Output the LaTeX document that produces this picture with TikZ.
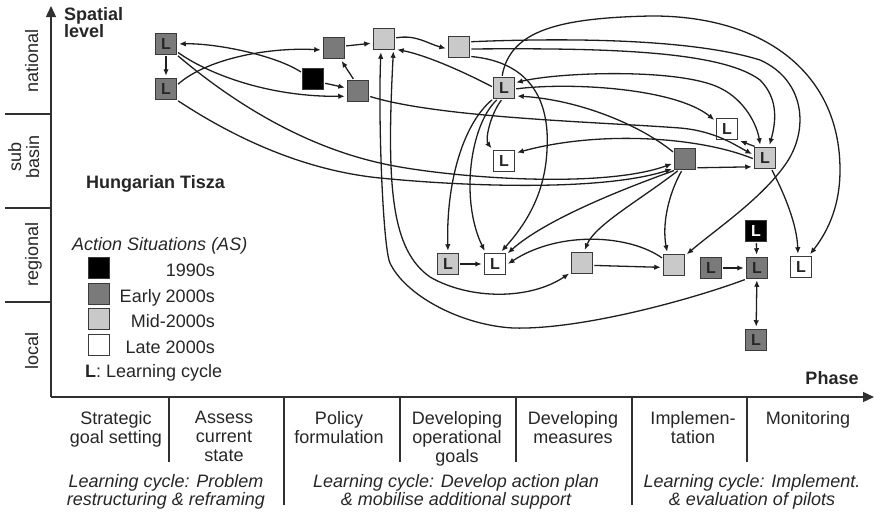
\documentclass[tikz,border=0pt]{standalone}
\usepackage{fontspec}
\setmainfont{Liberation Sans}
\usetikzlibrary{arrows.meta}
\definecolor{boxedge}{HTML}{3A3A3A}
\definecolor{darkfill}{HTML}{7A7A7A}
\definecolor{lightfill}{HTML}{C9C9C9}
\definecolor{linecol}{HTML}{1E1E1E}
\definecolor{axiscol}{HTML}{303030}
\begin{document}
\begin{tikzpicture}[x=1pt,y=-1pt,
  >={Latex[length=6.5pt,width=5.5pt]},
  txt/.style={font=\fontsize{18}{19}\selectfont, inner sep=0pt, text=black!85},
  box/.style={draw=boxedge, line width=1.5pt, minimum size=21pt, inner sep=0pt,
    font=\fontsize{16}{16}\selectfont\bfseries, text=black!85},
  dk/.style={box, fill=darkfill},
  lt/.style={box, fill=lightfill},
  wt/.style={box, fill=white},
  bk/.style={box, fill=black, text=white},
  link/.style={draw=linecol, line width=1.3pt, ->, shorten >=2pt, shorten <=1pt},
  axisline/.style={draw=axiscol, line width=1.4pt},
  bigtip/.style={-{Triangle[length=11pt,width=10pt]}}
]
\useasboundingbox (0,0) rectangle (874,512);

% ---------- axes ----------
\draw[axisline, bigtip] (51,397) -- (51,6);
\draw[axisline, bigtip] (51,397) -- (874,397);
\draw[axisline] (5,114) -- (51,114);
\draw[axisline] (5,208) -- (51,208);
\draw[axisline] (5,302) -- (51,302);

\node[txt, font=\fontsize{18}{19}\selectfont\bfseries, anchor=base west] (spatial) at (64,20) {Spatial};
\node[txt, font=\fontsize{18}{19}\selectfont\bfseries, anchor=base west] (level) at (64,37) {level};
\node[txt, font=\fontsize{18}{19}\selectfont\bfseries, anchor=base] (phase) at (832,384) {Phase};

\node[txt, rotate=90, anchor=base] (nat) at (38,61) {national};
\node[txt, rotate=90, anchor=base] (sub) at (21,157) {sub};
\node[txt, rotate=90, anchor=base] (basin) at (39,157) {basin};
\node[txt, rotate=90, anchor=base] (reg) at (38,254) {regional};
\node[txt, rotate=90, anchor=base] (loc) at (38,351) {local};

% ---------- phases ----------
\foreach \x/\len in {169/462, 284/505, 400/462, 516/462, 632/505, 747/462}
  \draw[axisline] (\x,397) -- (\x,\len);

\node[txt, align=center, anchor=north] (ph1) at (116,411) {Strategic\\goal setting};
\node[txt, align=center, anchor=north] (ph2) at (224,411) {Assess\\current\\state};
\node[txt, align=center, anchor=north] (ph3) at (339,411) {Policy\\formulation};
\node[txt, align=center, anchor=north] (ph4) at (457,411) {Developing\\operational\\goals};
\node[txt, align=center, anchor=north] (ph5) at (573,411) {Developing\\measures};
\node[txt, align=center, anchor=north] (ph6) at (693,411) {Implemen-\\tation};
\node[txt, align=center, anchor=north] (ph7) at (808,411) {Monitoring};

\node[txt, font=\fontsize{18}{18.5}\selectfont\itshape, align=center, anchor=north] (lc1) at (166,474)
  {Learning cycle: Problem\\restructuring \& reframing};
\node[txt, font=\fontsize{18}{18.5}\selectfont\itshape, align=center, anchor=north] (lc2) at (456,474)
  {Learning cycle: Develop action plan\\\& mobilise additional support};
\node[txt, font=\fontsize{18}{18.5}\selectfont\itshape, align=center, anchor=north] (lc3) at (752,474)
  {Learning cycle: Implement.\\\& evaluation of pilots};

% ---------- legend ----------
\node[txt, font=\fontsize{18}{19}\selectfont\bfseries, anchor=base west] (tisza) at (86,188) {Hungarian Tisza};
\node[txt, font=\fontsize{18}{19}\selectfont\itshape, anchor=base west] (astitle) at (72,250) {Action Situations (AS)};
\node[bk] (lg1) at (99,268) {};
\node[dk] (lg2) at (99,294) {};
\node[lt] (lg3) at (99,319) {};
\node[wt] (lg4) at (99,345) {};
\node[txt, anchor=base east] (lgt1) at (215,276) {1990s};
\node[txt, anchor=base east] (lgt2) at (215,302) {Early 2000s};
\node[txt, anchor=base east] (lgt3) at (215,327) {Mid-2000s};
\node[txt, anchor=base east] (lgt4) at (215,353) {Late 2000s};
\node[txt, anchor=base west] (lgt5) at (85,377) {\textbf{L}: Learning cycle};

% ---------- action situations ----------
\node[dk] (A) at (166,44) {L};
\node[dk] (B) at (166,89) {L};
\node[bk] (C) at (313,79) {};
\node[dk] (D) at (334,48) {};
\node[dk] (E) at (358,91) {};
\node[lt] (F) at (384,39) {};
\node[lt] (G) at (459,47) {};
\node[lt] (H) at (504,88) {L};
\node[wt] (I) at (504,161) {L};
\node[wt] (J) at (727,129) {L};
\node[lt] (K) at (765,158) {L};
\node[dk] (M) at (685,159) {};
\node[lt] (N) at (448,264) {L};
\node[wt] (O) at (495,264) {L};
\node[lt] (P) at (582,263) {};
\node[lt] (Q) at (674,265) {};
\node[dk] (R) at (711,268) {L};
\node[bk] (S) at (756,231) {L};
\node[dk] (T) at (757,268) {L};
\node[wt] (U) at (801,267) {L};
\node[dk] (V) at (756,340) {L};

% ---------- links ----------
\draw[link] (A) -- (B);
\draw[link] (C.150) .. controls (275,55) and (215,43) .. (A.east);
\draw[link] (B.20) .. controls (205,60) and (265,47) .. (D.190);
\draw[link] (A.-35) .. controls (205,72) and (265,97) .. (E.205);
\draw[link] (C.-20) -- (E.165);
\draw[link] (E.110) -- (D.-60);
\draw[link] (D.10) -- (F.200);
\draw[link] (F.5) to[out=10,in=165] (G.190);
\draw[link] (H.175) .. controls (460,70) and (425,55) .. (F.-42);
\draw[link,<->] (F.-50) .. controls (386,190) and (392,250) .. (430,277)
  .. controls (470,300) and (530,300) .. (P.-140);
\draw[link] (T.-135) .. controls (690,300) and (580,330) .. (513,328)
  .. controls (460,325) and (405,295) .. (390,263)
  .. controls (383,248) and (378,120) .. (F.-105);
\draw[link] (G.-40) .. controls (530,62) and (550,100) .. (547,150)
  .. controls (545,195) and (525,225) .. (O.65);
\draw[link] (H.100) .. controls (510,30) and (560,18) .. (650,16)
  .. controls (760,15) and (840,70) .. (840,170)
  .. controls (840,210) and (825,235) .. (U.55);
\draw[link] (G.25) .. controls (560,38) and (690,38) .. (760,60)
  .. controls (805,80) and (810,130) .. (785,165)
  .. controls (760,200) and (715,230) .. (Q.40);
\draw[link] (G.-10) .. controls (600,48) and (720,50) .. (760,80)
  .. controls (780,100) and (775,125) .. (K.70);
\draw[link,<->] (H.25) .. controls (560,72) and (680,68) .. (720,88)
  .. controls (745,100) and (757,125) .. (K.112);
\draw[link] (H.-5) .. controls (570,82) and (675,88) .. (J.145);
\draw[link] (M.150) .. controls (640,125) and (580,100) .. (H.-35);
\draw[link] (E.-25) .. controls (440,118) and (600,122) .. (680,128)
  .. controls (715,131) and (735,145) .. (K.165);
\draw[link] (K.-175) .. controls (700,137) and (600,130) .. (I.35);
\draw[link] (K.130) -- (J.-45);
\draw[link] (M.-38) -- (K.-142);
\draw[link] (A.-45) .. controls (230,100) and (300,145) .. (380,163)
  .. controls (440,177) and (600,190) .. (M.-160);
\draw[link] (B.-45) .. controls (230,135) and (300,170) .. (380,178)
  .. controls (460,186) and (600,192) .. (M.-140);
\draw[link] (M.-132) .. controls (620,190) and (545,220) .. (O.40);
\draw[link] (M.-120) .. controls (640,200) and (595,225) .. (P.80);
\draw[link] (M.-105) .. controls (668,195) and (662,225) .. (Q.120);
\draw[link] (Q.150) .. controls (630,235) and (560,230) .. (O.-5);
\draw[link] (P.-12) -- (Q.-168);
\draw[link] (N) -- (O);
\draw[link] (H.-135) .. controls (462,125) and (446,185) .. (N.north);
\draw[link] (H.-120) .. controls (470,125) and (460,200) .. (O.130);
\draw[link] (H.-100) .. controls (490,115) and (485,140) .. (I.135);
\draw[link] (K.-60) .. controls (785,195) and (797,225) .. (U.105);
\draw[link] (S) -- (T);
\draw[link] (R) -- (T);
\draw[link,<->] (T) -- (V);
\end{tikzpicture}
\end{document}
